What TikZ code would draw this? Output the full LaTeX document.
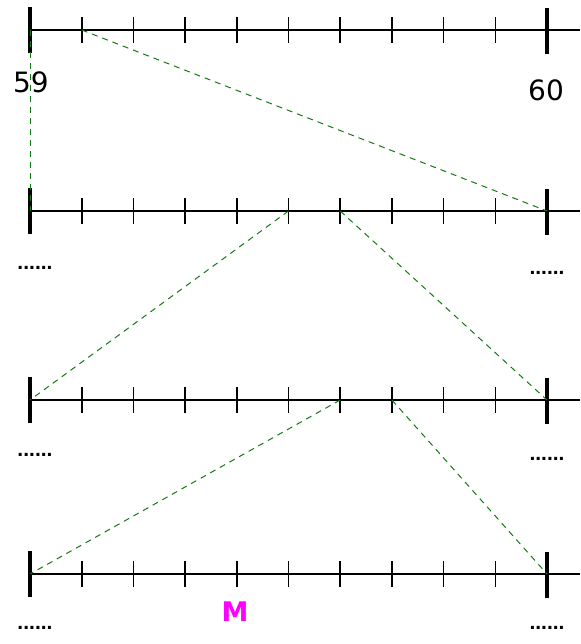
\documentclass[tikz,border=0pt]{standalone}
\usepackage{fontspec}
\setmainfont{DejaVu Sans}
\newfontfamily\dotfont{Liberation Sans}
\definecolor{dgreen}{RGB}{20,120,20}
\definecolor{mag}{RGB}{255,0,255}
\tikzset{
  axis/.style={line width=2pt},
  bigtick/.style={line width=4pt},
  smalltick/.style={line width=1.6pt},
  guide/.style={dgreen, line width=1pt, dash pattern=on 6pt off 5pt},
  lbl/.style={font=\fontsize{28}{30}\selectfont, inner sep=0pt},
  dots/.style={font=\dotfont\fontsize{21}{24}\selectfont\bfseries, inner sep=0pt}
}
\begin{document}
\begin{tikzpicture}[x=1pt,y=-1pt]
\useasboundingbox (0,0) rectangle (580,644);
\foreach \r/\yy in {a/30,b/211,c/400,d/574}{
  \draw[axis] (30,\yy) -- (580,\yy);
  \foreach \k in {0,...,10}{
    \coordinate (\r\k) at ({30+\k*51.7},\yy);
  }
  \foreach \k in {1,...,9}{
    \draw[smalltick] ([yshift=-13pt]\r\k) -- ([yshift=13pt]\r\k);
  }
  \draw[bigtick] ([yshift=-23pt]\r0) -- ([yshift=23pt]\r0);
  \draw[bigtick] ([yshift=-24pt]\r10) -- ([yshift=22pt]\r10);
}
\draw[guide] (a0) -- (b0);
\draw[guide] (a1) -- (b10);
\draw[guide] (b5) -- (c0);
\draw[guide] (b6) -- (c10);
\draw[guide] (c6) -- (d0);
\draw[guide] (c7) -- (d10);
\node[lbl] (l59) at (31,82) {59};
\node[lbl] (l60) at (546,90) {60};
\node[dots] (lb) at (35,268) {......};
\node[dots] (rb) at (547,273) {......};
\node[dots] (lc) at (35,455) {......};
\node[dots] (rc) at (547,459) {......};
\node[dots] (ld) at (35,628) {......};
\node[dots] (rd) at (547,628) {......};
\node[lbl, text=mag, font=\fontsize{27}{30}\selectfont\bfseries] (m) at (235,612) {M};
\end{tikzpicture}
\end{document}
